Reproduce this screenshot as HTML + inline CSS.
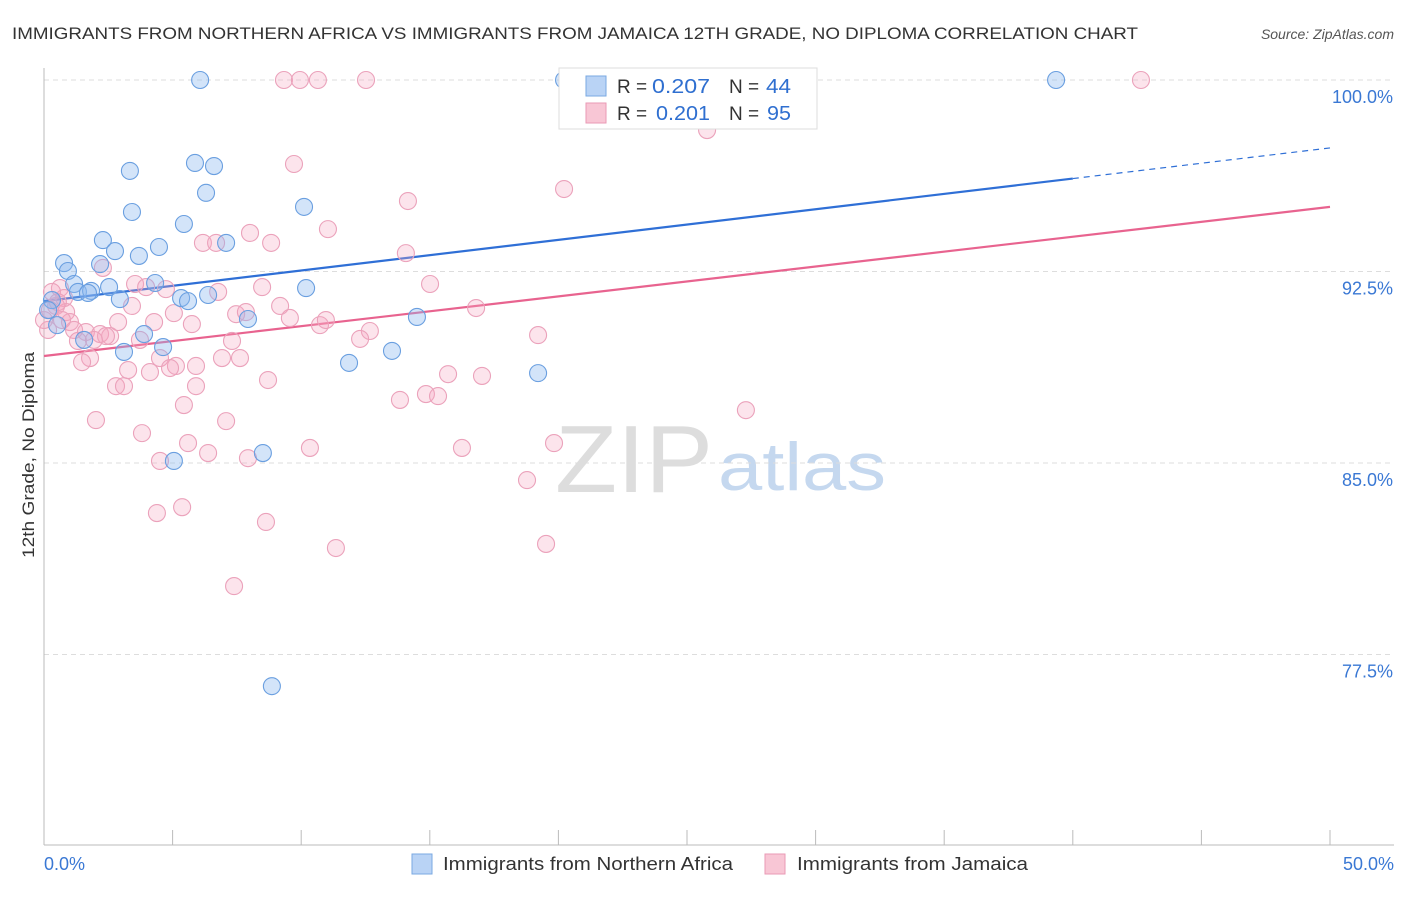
<!DOCTYPE html>
<html><head><meta charset="utf-8">
<style>
body{margin:0;background:#fff;font-family:"Liberation Sans",sans-serif;}
svg text{font-family:"Liberation Sans",sans-serif;}
</style></head>
<body>
<svg id="chart" width="1406" height="892" viewBox="0 0 1406 892" xmlns="http://www.w3.org/2000/svg">
<text x="12" y="39" font-size="17" fill="#333" textLength="1126" lengthAdjust="spacingAndGlyphs">IMMIGRANTS FROM NORTHERN AFRICA VS IMMIGRANTS FROM JAMAICA 12TH GRADE, NO DIPLOMA CORRELATION CHART</text>
<text x="1394" y="39" font-size="14" fill="#555" font-style="italic" text-anchor="end">Source: ZipAtlas.com</text>
<g>
<text x="555" y="492" font-size="96" fill="#ddd" font-family="Liberation Serif,serif" textLength="158" lengthAdjust="spacingAndGlyphs">ZIP</text>
<text x="718" y="490" font-size="68" fill="#c5d8ef" textLength="168" lengthAdjust="spacingAndGlyphs">atlas</text>
</g>
<g id="grid"></g>
<g id="axes"></g>
<g id="trends"></g>
<g id="points"></g>
<text transform="translate(34,455) rotate(-90)" font-size="17" fill="#333" text-anchor="middle" textLength="206" lengthAdjust="spacingAndGlyphs">12th Grade, No Diploma</text>
<g>
<rect x="559" y="68" width="258" height="61" fill="#fff" stroke="#ddd"/>
<rect x="586" y="76" width="20" height="20" fill="#b9d3f5" stroke="#7aa8e2"/>
<rect x="586" y="103" width="20" height="20" fill="#f8c6d5" stroke="#ea9ab5"/>
<text x="617" y="93" font-size="19" fill="#333">R =</text>
<text x="652" y="93" font-size="20" fill="#2f6fd0" textLength="58" lengthAdjust="spacingAndGlyphs">0.207</text>
<text x="729" y="93" font-size="19" fill="#333">N =</text>
<text x="766" y="93" font-size="20" fill="#2f6fd0" textLength="25" lengthAdjust="spacingAndGlyphs">44</text>
<text x="617" y="120" font-size="19" fill="#333">R =</text>
<text x="656" y="120" font-size="20" fill="#2f6fd0" textLength="54" lengthAdjust="spacingAndGlyphs">0.201</text>
<text x="729" y="120" font-size="19" fill="#333">N =</text>
<text x="767" y="120" font-size="20" fill="#2f6fd0" textLength="24" lengthAdjust="spacingAndGlyphs">95</text>
</g>
<g>
<rect x="412" y="854" width="20" height="20" fill="#b9d3f5" stroke="#7aa8e2"/>
<text x="443" y="870" font-size="18" fill="#333" textLength="290" lengthAdjust="spacingAndGlyphs">Immigrants from Northern Africa</text>
<rect x="765" y="854" width="20" height="20" fill="#f8c6d5" stroke="#ea9ab5"/>
<text x="797" y="870" font-size="18" fill="#333" textLength="231" lengthAdjust="spacingAndGlyphs">Immigrants from Jamaica</text>
</g>
</svg>
<script>
const yTicks=[100,92.5,85,77.5];
const yTickLabels=["100.0%","92.5%","85.0%","77.5%"];
const xTicks=[0,5,10,15,20,25,30,35,40,45,50];
const blueX=[6.07,20.22,39.35,3.34,5.87,6.61,6.30,3.42,10.11,5.44,2.29,7.08,4.47,2.76,3.69,0.78,2.18,0.93,1.17,4.32,1.32,1.83,1.71,2.53,0.31,2.95,5.33,5.60,6.38,10.19,7.93,14.50,0.51,3.89,1.56,4.63,3.11,13.53,11.86,19.21,8.51,5.05,8.86,0.16];
const blueY=[100,100,100,96.44,96.75,96.63,95.58,94.83,95.03,94.36,93.73,93.62,93.46,93.30,93.11,92.83,92.79,92.52,92.01,92.05,91.70,91.74,91.66,91.89,91.38,91.42,91.46,91.34,91.58,91.85,90.64,90.72,90.40,90.05,89.82,89.54,89.35,89.39,88.92,88.52,85.39,85.08,76.26,90.99];
const pinkX=[9.33,9.95,10.65,12.52,42.65,25.78,20.22,9.72,14.15,8.01,11.04,6.18,6.69,8.83,14.07,2.29,3.54,3.97,4.74,8.48,6.77,15.01,9.18,9.56,7.47,10.73,10.96,12.67,16.80,19.21,0.62,0.78,0.47,0.86,1.01,1.17,1.63,2.18,2.57,1.32,2.41,2.88,3.42,4.28,5.05,5.75,3.73,4.51,5.13,5.91,6.92,7.62,1.79,1.48,2.80,3.11,3.27,4.12,5.91,7.31,7.85,8.71,12.29,13.84,14.85,15.32,15.71,17.03,2.02,3.81,5.44,5.60,6.38,7.08,7.93,10.34,16.25,19.83,18.78,19.52,27.29,4.51,4.39,5.37,8.63,11.35,7.39,0.31,0.54,0.70,0.16,1.94,4.90,0.00,0.23];
const pinkY=[100,100,100,100,100,98.04,95.73,96.71,95.26,94.01,94.16,93.62,93.62,93.62,93.22,92.64,92.01,91.89,91.81,91.89,91.70,92.01,91.15,90.68,90.83,90.40,90.60,90.17,91.07,90.01,91.85,91.46,91.15,90.91,90.52,90.21,90.13,90.05,89.97,89.78,89.97,90.52,91.15,90.52,90.87,90.44,89.82,89.11,88.80,88.80,89.11,89.11,89.11,88.95,88.01,88.01,88.64,88.56,88.01,89.78,90.91,88.25,89.86,87.47,87.70,87.62,88.48,88.41,86.68,86.17,87.27,85.78,85.39,86.64,85.19,85.59,85.59,85.78,84.33,81.83,87.07,85.08,83.04,83.27,82.69,81.67,80.18,91.70,91.30,90.60,90.21,89.82,88.72,90.60,90.99];
const blueTrend=[91.34,97.34];
const pinkTrend=[89.19,95.03];
const NS="http://www.w3.org/2000/svg";
const sx=v=>44+v/50*1286;
const sy=v=>80+(100-v)/7.5*191.5;
function mk(t,a,p){const e=document.createElementNS(NS,t);for(const k in a)e.setAttribute(k,a[k]);p.appendChild(e);return e;}
const grid=document.getElementById('grid'),axes=document.getElementById('axes');
yTicks.forEach((v,i)=>{
 const l=mk('line',{x1:44,x2:1394,y1:sy(v),y2:sy(v),stroke:'#ddd','stroke-dasharray':'5,4'},grid);
 
 
 const t=mk('text',{x:1393,y:sy(v)+23,'font-size':18,fill:'#3a78d4','text-anchor':'end'},grid);
 t.textContent=yTickLabels[i];
 
 
});
const xa=mk('line',{x1:44,x2:1394,y1:845,y2:845,stroke:'#bbb'},axes);


const ya=mk('line',{x1:44,x2:44,y1:68,y2:845,stroke:'#bbb'},axes);


xTicks.forEach(v=>{
 const t=mk('line',{x1:sx(v),x2:sx(v),y1:830,y2:845,stroke:'#bbb'},axes);
 
 
});
const xl0=mk('text',{x:44,y:870,'font-size':18,fill:'#3a78d4'},axes);xl0.textContent='0.0%';


const xl1=mk('text',{x:1394,y:870,'font-size':18,fill:'#3a78d4','text-anchor':'end'},axes);xl1.textContent='50.0%';


const pts=document.getElementById('points');
pinkX.forEach((x,i)=>{
 const c=mk('circle',{cx:sx(x),cy:sy(pinkY[i]),r:8.5,fill:'rgba(245,165,192,0.3)',stroke:'#eba2bb','stroke-width':1.1},pts);
 
 
});
blueX.forEach((x,i)=>{
 const c=mk('circle',{cx:sx(x),cy:sy(blueY[i]),r:8.5,fill:'rgba(140,185,240,0.38)',stroke:'#6a9fe0','stroke-width':1.1},pts);
 
 
});
const tr=document.getElementById('trends');
const yb=x=>blueTrend[0]+(blueTrend[1]-blueTrend[0])*x/50;
const b1=mk('line',{x1:sx(0),y1:sy(yb(0)),x2:sx(40),y2:sy(yb(40)),stroke:'#2f6fd6','stroke-width':2.2},tr);


const b2=mk('line',{x1:sx(40),y1:sy(yb(40)),x2:sx(50),y2:sy(yb(50)),stroke:'#2f6fd6','stroke-width':1.2,'stroke-dasharray':'6,5'},tr);


const p1=mk('line',{x1:sx(0),y1:sy(pinkTrend[0]),x2:sx(50),y2:sy(pinkTrend[1]),stroke:'#e8638f','stroke-width':2.2},tr);


</script>
</body></html>
